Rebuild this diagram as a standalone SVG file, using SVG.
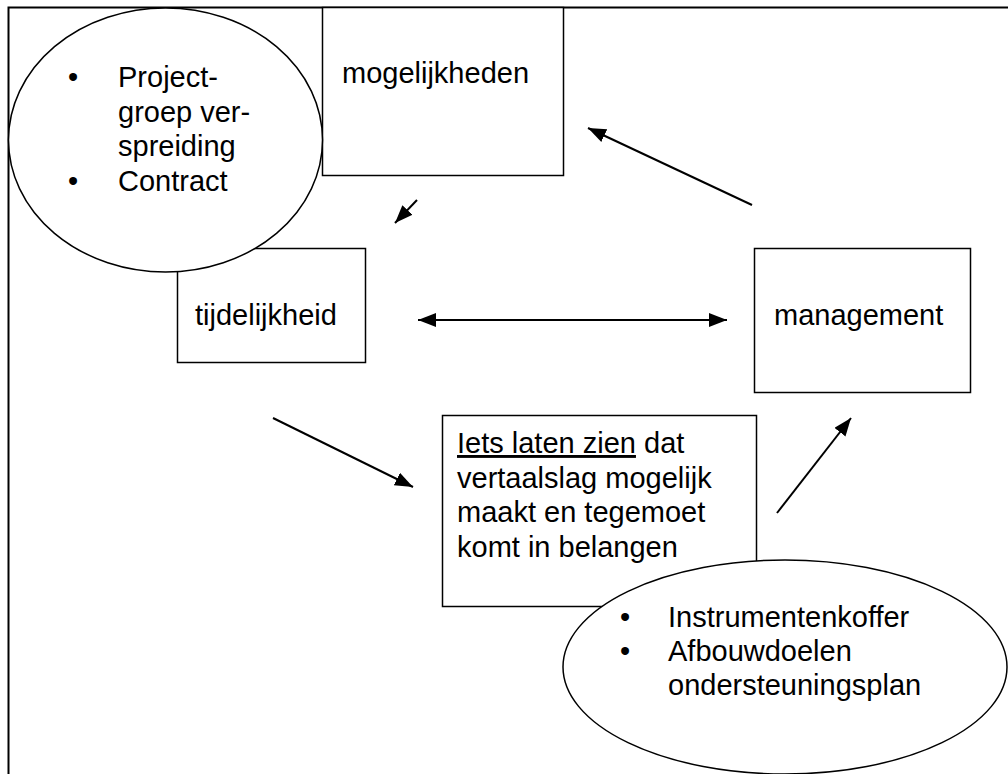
<svg xmlns="http://www.w3.org/2000/svg" width="1008" height="774" viewBox="0 0 1008 774">
<style>
.box{fill:#fff;stroke:#000;stroke-width:1.5}
.ell{fill:#fff;stroke:#000;stroke-width:1.5}
.t{font-family:"Liberation Sans",Arial,sans-serif;font-size:29px;fill:#000}
.c{stroke:#000;stroke-width:2;fill:none}
</style>
<defs>
<marker id="ah" markerUnits="userSpaceOnUse" markerWidth="20" markerHeight="16" refX="18" refY="7" orient="auto-start-reverse">
<path d="M0,0 L18,7 L0,14 z" fill="#000"/>
</marker>
</defs>
<rect width="1008" height="774" fill="#fff"/>
<g id="frame">
<path d="M1008,7.5 H8.5 V774" fill="none" stroke="#000" stroke-width="2"/>
</g>
<g id="tijdelijkheid">
<rect class="box" x="177.5" y="248.5" width="188" height="114"/>
<text class="t" x="195" y="325">tijdelijkheid</text>
</g>
<g id="mogelijkheden">
<rect class="box" x="322.5" y="7.5" width="241" height="168"/>
<text class="t" x="342" y="83">mogelijkheden</text>
</g>
<g id="ellipse-project">
<ellipse class="ell" cx="165.5" cy="140" rx="157" ry="132"/>
<text class="t" x="68" y="87">•</text>
<text class="t" x="118" y="87">Project-</text>
<text class="t" x="118" y="122">groep ver-</text>
<text class="t" x="118" y="156">spreiding</text>
<text class="t" x="68" y="191">•</text>
<text class="t" x="118" y="191">Contract</text>
</g>
<g id="management">
<rect class="box" x="754.5" y="248.5" width="216" height="144"/>
<text class="t" x="774" y="325">management</text>
</g>
<g id="iets">
<rect class="box" x="442.5" y="415.5" width="314" height="191"/>
<text class="t" x="457" y="453"><tspan text-decoration="underline">Iets laten zien</tspan> dat</text>
<text class="t" x="457" y="488">vertaalslag mogelijk</text>
<text class="t" x="457" y="522">maakt en tegemoet</text>
<text class="t" x="457" y="557">komt in belangen</text>
</g>
<g id="ellipse-instrumenten">
<ellipse class="ell" cx="785" cy="667" rx="222" ry="107"/>
<text class="t" x="620" y="627">•</text>
<text class="t" x="668" y="627">Instrumentenkoffer</text>
<text class="t" x="620" y="661">•</text>
<text class="t" x="668" y="661">Afbouwdoelen</text>
<text class="t" x="668" y="695">ondersteuningsplan</text>
</g>
<g id="connectors">
<line class="c" x1="752" y1="205" x2="588" y2="128" marker-end="url(#ah)"/>
<line class="c" x1="417" y1="200" x2="395" y2="223" marker-end="url(#ah)"/>
<line class="c" x1="418" y1="320" x2="727" y2="320" marker-start="url(#ah)" marker-end="url(#ah)"/>
<line class="c" x1="273" y1="418" x2="413" y2="487" marker-end="url(#ah)"/>
<line class="c" x1="777" y1="513" x2="851" y2="418" marker-end="url(#ah)"/>
</g>
</svg>
